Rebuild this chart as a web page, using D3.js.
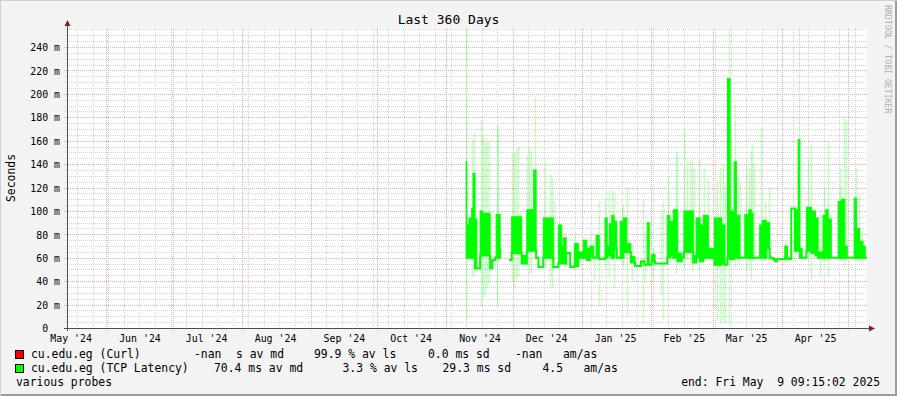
<!DOCTYPE html>
<html>
<head>
<meta charset="utf-8">
<script src="https://cdn.jsdelivr.net/npm/d3@7/dist/d3.min.js"></script>
<style>
    html, body { margin: 0; padding: 0; background: #f3f3f3; }
    svg { display: block; }
    text { font-family: "DejaVu Sans Mono", monospace; white-space: pre; }
</style>
</head>
<body>
<svg id="chart"></svg>
<script>
var WIDTH = 897, HEIGHT = 396;
var PLOT = {left: 67, right: 867, top: 28, bottom: 328};
var Y_MAX = 256.25;

// graph covers the 360 days before this moment
var endTime = Date.UTC(2025, 4, 9, 9, 15, 2);
var startTime = endTime - 360 * 864e5;

var yTicks = [0, 20, 40, 60, 80, 100, 120, 140, 160, 180, 200, 220, 240];
var yTickLabels = ["0  ", "20 m", "40 m", "60 m", "80 m", "100 m", "120 m", "140 m", "160 m", "180 m", "200 m", "220 m", "240 m"];
var monthLabels = ["May '24", "Jun '24", "Jul '24", "Aug '24", "Sep '24", "Oct '24", "Nov '24",
    "Dec '24", "Jan '25", "Feb '25", "Mar '25", "Apr '25"];

// TCP latency median (ms): each segment starts segStart days after 2024-11-10,
// and inside it the median swings between segLo and segHi (null = no data)
var dataStart = Date.UTC(2024, 10, 10);
var segStart = [0.0, 0.3, 1.3, 2.5, 3.1, 4.0, 4.8, 6.3, 7.3, 10.8, 11.8, 13.0, 13.5, 15.3, 15.5,
    19.4, 20.5, 25.0, 27.3, 30.4, 31.5, 32.5, 34.7, 39.2, 41.5, 43.0, 43.7, 45.0, 46.8, 48.7,
    50.5, 52.7, 54.3, 55.8, 57.2, 58.5, 59.9, 62.5, 63.5, 64.4, 65.5, 66.6, 67.8, 69.3, 70.5,
    70.8, 72.3, 74.1, 76.0, 78.7, 80.1, 81.5, 82.4, 83.5, 85.0, 90.5, 91.7, 93.2, 95.2, 97.0,
    98.0, 102.2, 103.5, 105.3, 106.7, 109.0, 111.7, 115.0, 116.4, 117.6, 118.8, 120.6, 121.6, 123.2, 125.4,
    127.2, 128.3, 129.1, 132.1, 133.2, 135.1, 136.6, 138.1, 139.0, 139.8, 143.4, 144.6, 146.3, 148.0, 149.4,
    150.2, 151.2, 153.1, 155.4, 157.2, 158.4, 160.6, 161.8, 162.9, 164.3, 167.4, 168.9, 170.4, 171.5, 174.6,
    175.6, 177.1, 178.6, 179.6];
var segEnd = 180.3;
var segLo = [60, 60, 60, 60, 60, 51, 51, 62, 62, 51, 58, 60, 60, 68, null,
    58, 64, 55, 66, 66, 60, 52, 60, 52, 55, 56, 55, 64, 52, 53,
    60, 60, 58, 61, 60, 60, 59, 60, 62, 62, 60, 68, 60, 60, 60,
    65, 65, 56, 53, 57, 54, 54, 54, 57, 55, 60, 62, 60, 57, 60,
    65, 56, 60, 57, 60, 60, 54, 55, 54, 60, 59, 60, 60, 60, 60,
    60, 60, 60, 60, 60, 68, 60, 59, 57, 59, 60, 59, 102, 66, 66,
    60, 60, 66, 64, 62, 60, 60, 60, 60, 60, 60, 60, 60, 60, 60,
    60, 60, 60, 60];
var segHi = [142, 88, 94, 102, 132, 93, 51, 100, 98, 51, 58, 60, 97, 68, null,
    58, 95, 62, 101, 135, 60, 52, 94, 52, 88, 70, 77, 64, 52, 72,
    65, 75, 68, 70, 60, 79, 59, 94, 70, 89, 96, 91, 60, 91, 60,
    94, 72, 61, 53, 57, 54, 90, 54, 63, 55, 96, 91, 101, 64, 60,
    100, 62, 94, 88, 96, 68, 94, 88, 54, 213, 100, 142, 96, 60, 97,
    101, 98, 60, 88, 92, 90, 60, 59, 57, 59, 70, 60, 102, 101, 161,
    68, 60, 103, 100, 94, 65, 96, 101, 93, 60, 108, 110, 70, 60, 111,
    85, 74, 70, 60];

// smoke: spread of the single probes (ms), day offsets from 2024-11-10
var smokeDay = [0.0, 2.8, 3.6, 6.6, 7.5, 8.5, 9.5, 10.2, 13.8, 14.2, 20.8, 21.7, 22.3, 23.2, 27.3,
    28.3, 29.2, 31.0, 35.5, 37.8, 38.5, 39.6, 44.5, 49.0, 50.5, 52.7, 55.8, 57.6, 59.8, 62.5,
    64.4, 65.5, 66.6, 70.0, 70.7, 72.5, 74.5, 79.5, 80.5, 83.1, 84.2, 87.7, 88.5, 91.0, 94.5,
    95.0, 98.2, 99.3, 100.8, 101.5, 102.6, 104.8, 107.2, 109.0, 112.8, 114.3, 115.5, 116.5, 118.2, 119.3,
    121.1, 122.4, 123.2, 126.1, 127.2, 128.1, 128.8, 129.4, 132.8, 134.4, 136.2, 143.6, 147.9, 149.8, 153.9,
    155.4, 156.6, 159.1, 161.1, 162.9, 163.6, 168.1, 168.9, 170.1, 171.1, 174.9, 175.6, 176.7, 178.2];
var smokeLo = [6, 43, 45, 18, 26, 28, 34, 37, 21, 57, 40, 34, 41, 44, 57,
    46, 46, 60, 51, 36, 34, 55, 51, 57, 53, 57, 57, 40, 18, 51,
    43, 57, 34, 55, 51, 10, 40, 4, 40, 68, 41, 28, 7, 55, 46,
    55, 51, 57, 54, 48, 57, 48, 57, 60, 6, 3, 6, 3, 3, 57,
    51, 54, 57, 48, 51, 40, 57, 57, 57, 57, 57, 57, 57, 60, 57,
    41, 57, 44, 57, 44, 60, 57, 57, 51, 60, 60, 57, 55, 55];
var smokeHi = [256, 162, 167, 178, 165, 159, 162, 159, 173, 170, 151, 149, 153, 155, 148,
    155, 151, 197, 141, 131, 128, 108, 82, 80, 74, 77, 80, 76, 108, 111,
    117, 118, 115, 102, 105, 120, 72, 110, 82, 91, 68, 101, 108, 128, 151,
    148, 169, 143, 143, 142, 137, 145, 137, 128, 125, 137, 140, 121, 256, 162,
    191, 128, 125, 140, 137, 151, 157, 140, 171, 108, 120, 74, 102, 256, 145,
    157, 80, 98, 120, 159, 97, 137, 120, 179, 177, 111, 137, 114, 82];

var legendCurlName = "cu.edu.eg (Curl)";
var legendCurlStats = ["-nan", "s av md", "99.9 % av ls", "0.0 ms sd", "-nan", "am/as"];
var legendTcpName = "cu.edu.eg (TCP Latency)";
var legendTcpStats = ["70.4 ms av md", "3.3 % av ls", "29.3 ms sd", "4.5", "am/as"];
var curlStatsX = [194, 236, 314, 428, 515, 563];
var tcpStatsX = [214, 342.5, 442.5, 542.5, 583.5];

var svg = d3.select("#chart")
    .attr("width", WIDTH)
    .attr("height", HEIGHT)
    .attr("xml:space", "preserve");

var x = d3.scaleUtc().domain([startTime, endTime]).range([PLOT.left, PLOT.right]);
var y = d3.scaleLinear().domain([0, Y_MAX]).range([PLOT.bottom, PLOT.top]);

function dayToDate (d) {
    return new Date(dataStart + d * 864e5);
}

function crisp (v) {
    return Math.round(v) + 0.5;
}

// background and frame
svg.append("rect").attr("width", WIDTH).attr("height", HEIGHT).attr("fill", "#f3f3f3");
svg.append("rect")
    .attr("x", PLOT.left).attr("y", PLOT.top)
    .attr("width", PLOT.right - PLOT.left).attr("height", PLOT.bottom - PLOT.top)
    .attr("fill", "#ffffff");
svg.append("path").attr("d", "M0.5," + HEIGHT + "V0.5H" + WIDTH)
    .attr("fill", "none").attr("stroke", "#cfcfcf").attr("stroke-width", 1);
svg.append("path").attr("d", "M1," + (HEIGHT - 1) + "H" + (WIDTH - 1) + "V1")
    .attr("fill", "none").attr("stroke", "#9e9e9e").attr("stroke-width", 2);

drawGrid(svg);
drawSmoke(svg);
drawMedian(svg);
drawAxes(svg);
drawTexts(svg);
drawLegend(svg);

function drawGrid (cont) {
    var grid = cont.append("g").attr("fill", "none");
    var minorY = d3.range(5, Y_MAX, 5).filter(function (v) { return v % 20 !== 0; });
    var majorY = yTicks.filter(function (v) { return v > 0; });
    var months = d3.utcMonth.range(startTime, endTime);
    var weeks = d3.utcSunday.range(startTime, endTime).filter(function (d) {
        return d.getUTCDate() !== 1 || d.getUTCHours() !== 0;
    });

    grid.selectAll(".minorH").data(minorY).enter().append("line")
        .attr("x1", PLOT.left - 2).attr("x2", PLOT.right)
        .attr("y1", function (v) { return crisp(y(v)); })
        .attr("y2", function (v) { return crisp(y(v)); })
        .attr("stroke", "#d4d4d4").attr("stroke-dasharray", "1,1");
    grid.selectAll(".minorV").data(weeks).enter().append("line")
        .attr("x1", function (d) { return crisp(x(d)); })
        .attr("x2", function (d) { return crisp(x(d)); })
        .attr("y1", PLOT.top).attr("y2", PLOT.bottom + 2)
        .attr("stroke", "#d4d4d4").attr("stroke-dasharray", "1,1");
    grid.selectAll(".majorH").data(majorY).enter().append("line")
        .attr("x1", PLOT.left - 3).attr("x2", PLOT.right)
        .attr("y1", function (v) { return crisp(y(v)); })
        .attr("y2", function (v) { return crisp(y(v)); })
        .attr("stroke", "#f4a8a8").attr("stroke-dasharray", "1,1");
    grid.selectAll(".majorV").data(months).enter().append("line")
        .attr("x1", function (d) { return crisp(x(d)); })
        .attr("x2", function (d) { return crisp(x(d)); })
        .attr("y1", PLOT.top).attr("y2", PLOT.bottom + 3)
        .attr("stroke", "#f4a8a8").attr("stroke-dasharray", "1,1");
}

function drawSmoke (cont) {
    cont.append("g").selectAll("line")
        .data(smokeDay)
        .enter().append("line")
        .attr("x1", function (d) { return crisp(x(dayToDate(d))); })
        .attr("x2", function (d) { return crisp(x(dayToDate(d))); })
        .attr("y1", function (d, i) { return y(smokeLo[i]); })
        .attr("y2", function (d, i) { return Math.max(PLOT.top, y(smokeHi[i])); })
        .attr("stroke", "#00ff00")
        .attr("stroke-opacity", 0.22)
        .attr("stroke-width", 1.5);
}

function drawMedian (cont) {
    var segs = segStart.map(function (s, i) {
        var next = i < segStart.length - 1 ? segStart[i + 1] : segEnd;
        return {t0: dayToDate(s), t1: dayToDate(next), lo: segLo[i], hi: segHi[i]};
    });

    // blocks where the median jumps up and down from one step to the next
    cont.append("g").selectAll("rect")
        .data(segs.filter(function (s) { return s.lo !== null && s.hi > s.lo; }))
        .enter().append("rect")
        .attr("x", function (s) { return x(s.t0); })
        .attr("width", function (s) { return Math.max(0.5, x(s.t1) - x(s.t0)); })
        .attr("y", function (s) { return y(s.hi); })
        .attr("height", function (s) { return y(s.lo) - y(s.hi); })
        .attr("fill", "#00ff00")
        .attr("stroke", "#00ff00")
        .attr("stroke-width", 1);

    var points = [];
    segs.forEach(function (s) {
        points.push({t: s.t0, v: s.lo});
        points.push({t: s.t1, v: s.lo});
    });
    var line = d3.line()
        .defined(function (p) { return p.v !== null; })
        .x(function (p) { return x(p.t); })
        .y(function (p) { return y(p.v); });
    cont.append("path")
        .attr("d", line(points))
        .attr("fill", "none")
        .attr("stroke", "#00ff00")
        .attr("stroke-width", 2);
}

function drawAxes (cont) {
    var axisColor = "#4d4d4d", arrowColor = "#8e1b1b";

    var yAxis = d3.axisLeft(y)
        .tickValues(yTicks)
        .tickFormat(function (d, i) { return yTickLabels[i]; })
        .tickSize(0)
        .tickPadding(7);
    var gy = cont.append("g").attr("transform", "translate(" + PLOT.left + ",0)").call(yAxis);
    gy.select(".domain").remove();
    gy.selectAll("text")
        .attr("font-family", "DejaVu Sans Mono")
        .attr("font-size", 9.9)
        .attr("fill", "#000")
        .attr("dy", "0.37em");

    var labelDates = monthLabels.map(function (m, i) {
        return d3.utcDay.offset(d3.utcMonth.offset(Date.UTC(2024, 4, 1), i), 15);
    });
    var xAxis = d3.axisBottom(x)
        .tickValues(labelDates)
        .tickFormat(function (d, i) { return monthLabels[i]; })
        .tickSize(0)
        .tickPadding(7);
    var gx = cont.append("g").attr("transform", "translate(0," + PLOT.bottom + ")").call(xAxis);
    gx.select(".domain").remove();
    gx.selectAll("text")
        .attr("font-family", "DejaVu Sans Mono")
        .attr("font-size", 9.9)
        .attr("fill", "#000");

    cont.append("line")
        .attr("x1", PLOT.left - 3).attr("x2", PLOT.right + 3)
        .attr("y1", PLOT.bottom + 0.5).attr("y2", PLOT.bottom + 0.5)
        .attr("stroke", axisColor);
    cont.append("line")
        .attr("x1", PLOT.left + 0.5).attr("x2", PLOT.left + 0.5)
        .attr("y1", PLOT.bottom + 3).attr("y2", PLOT.top - 4)
        .attr("stroke", axisColor);
    // arrow heads
    cont.append("path")
        .attr("d", "M" + (PLOT.right + 2) + "," + (PLOT.bottom - 2.5) + "L" + (PLOT.right + 8) + "," +
            (PLOT.bottom + 0.5) + "L" + (PLOT.right + 2) + "," + (PLOT.bottom + 3.5) + "Z")
        .attr("fill", arrowColor);
    cont.append("path")
        .attr("d", "M" + (PLOT.left - 2.5) + "," + (PLOT.top - 2) + "L" + (PLOT.left + 0.5) + "," +
            (PLOT.top - 8) + "L" + (PLOT.left + 3.5) + "," + (PLOT.top - 2) + "Z")
        .attr("fill", arrowColor);
}

function drawTexts (cont) {
    cont.append("text")
        .attr("x", WIDTH / 2)
        .attr("y", 24)
        .attr("text-anchor", "middle")
        .attr("font-size", 13)
        .attr("fill", "#000")
        .text("Last 360 Days");
    cont.append("text")
        .attr("transform", "translate(14.5," + ((PLOT.top + PLOT.bottom) / 2) + ") rotate(-90)")
        .attr("text-anchor", "middle")
        .attr("font-size", 11.4)
        .attr("fill", "#000")
        .text("Seconds");
    cont.append("text")
        .attr("transform", "translate(885,5) rotate(90)")
        .attr("font-size", 8.2)
        .attr("fill", "#b0b0b0")
        .text("RRDTOOL / TOBI OETIKER");
}

function drawLegend (cont) {
    var rows = [
        {color: "#ff0000", name: legendCurlName, stats: legendCurlStats, xs: curlStatsX, base: 358},
        {color: "#00ff00", name: legendTcpName, stats: legendTcpStats, xs: tcpStatsX, base: 372}
    ];
    rows.forEach(function (row) {
        cont.append("rect")
            .attr("x", 15.5).attr("y", row.base - 7.5)
            .attr("width", 8).attr("height", 8)
            .attr("fill", row.color)
            .attr("stroke", "#000");
        cont.append("text")
            .attr("x", 31).attr("y", row.base)
            .attr("font-size", 11.4).attr("fill", "#000")
            .text(row.name);
        cont.selectAll(null).data(row.stats).enter().append("text")
            .attr("x", function (d, i) { return row.xs[i]; })
            .attr("y", row.base)
            .attr("font-size", 11.4).attr("fill", "#000")
            .text(function (d) { return d; });
    });
    cont.append("text")
        .attr("x", 16).attr("y", 386)
        .attr("font-size", 11.4).attr("fill", "#000")
        .text("various probes");
    cont.append("text")
        .attr("x", 880).attr("y", 386)
        .attr("text-anchor", "end")
        .attr("font-size", 11.4).attr("fill", "#000")
        .text("end: Fri May  9 09:15:02 2025");
}
</script>
</body>
</html>
